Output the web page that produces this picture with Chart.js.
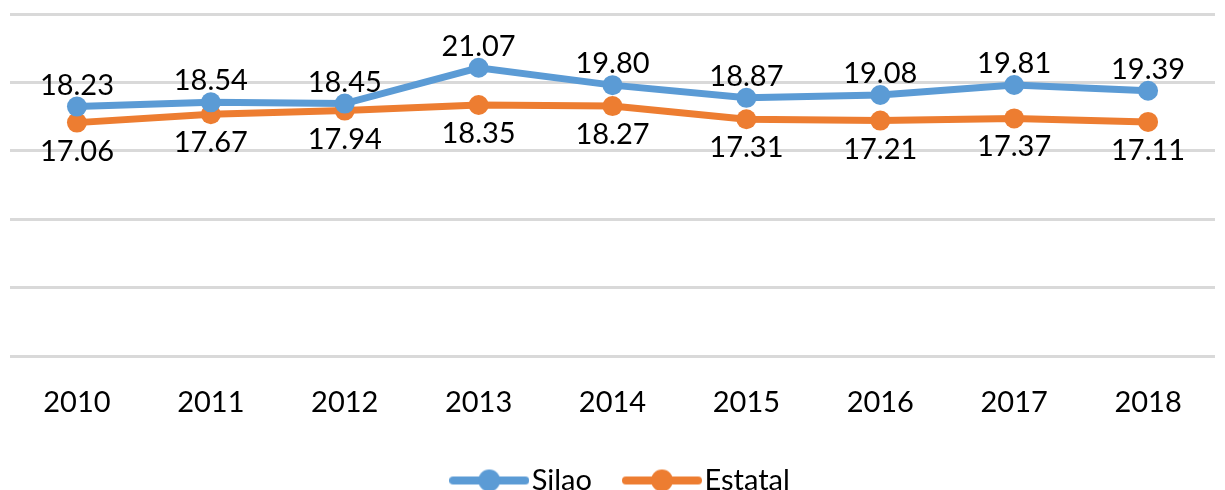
<!DOCTYPE html>
<html>
<head>
<meta charset="utf-8">
<script src="https://cdn.jsdelivr.net/npm/chart.js@4"></script>
<style>
  html, body { margin: 0; padding: 0; background: #fff; overflow: hidden; }
  #wrap { position: relative; width: 1225px; height: 505px; }
</style>
</head>
<body>
<div id="wrap"><canvas id="myChart"></canvas></div>
<script>
const years = ["2010", "2011", "2012", "2013", "2014", "2015", "2016", "2017", "2018"]
const silao = [18.23, 18.54, 18.45, 21.07, 19.80, 18.87, 19.08, 19.81, 19.39]
const estatal = [17.06, 17.67, 17.94, 18.35, 18.27, 17.31, 17.21, 17.37, 17.11]
const seriesNames = ["Silao", "Estatal"]
const colorHex = ["#5b9bd5", "#ed7d31"]

Chart.defaults.font.family = 'Lato, "Open Sans", sans-serif';
Chart.defaults.color = '#000';

// line + dot icon for the legend
function legendIcon(color) {
    const c = document.createElement('canvas');
    c.width = 80; c.height = 24;
    const g = c.getContext('2d');
    g.strokeStyle = color;
    g.lineWidth = 8;
    g.lineCap = 'round';
    g.beginPath();
    g.moveTo(4, 12);
    g.lineTo(76, 12);
    g.stroke();
    g.fillStyle = color;
    g.beginPath();
    g.arc(40, 12, 11, 0, Math.PI * 2);
    g.fill();
    return c;
}

// value labels: Silao above the point, Estatal below
const valueLabels = {
    id: 'valueLabels',
    afterDatasetsDraw(chart) {
        const ctx = chart.ctx;
        ctx.save();
        ctx.font = '29px Lato, "Open Sans", sans-serif';
        ctx.fillStyle = '#000';
        ctx.textAlign = 'center';
        ctx.textBaseline = 'alphabetic';
        chart.data.datasets.forEach((ds, i) => {
            const meta = chart.getDatasetMeta(i);
            meta.data.forEach((pt, j) => {
                const dy = i === 0 ? -12 : 38;
                ctx.fillText(ds.data[j].toFixed(2), pt.x, pt.y + dy);
            });
        });
        ctx.restore();
    }
};

// nudge the legend row a little to the right
const legendNudge = {
    id: 'legendNudge',
    afterLayout(chart) {
        chart.legend.left += 8;
        chart.legend.right += 8;
    }
};

const ctx = document.getElementById('myChart').getContext('2d');
const myChart = new Chart(ctx, {
    type: 'line',
    data: {
        labels: years,
        datasets: [
            { label: seriesNames[0], data: silao, borderColor: colorHex[0], backgroundColor: colorHex[0],
              borderWidth: 7, pointRadius: 10, pointHoverRadius: 10, pointBorderWidth: 0, tension: 0 },
            { label: seriesNames[1], data: estatal, borderColor: colorHex[1], backgroundColor: colorHex[1],
              borderWidth: 7, pointRadius: 10, pointHoverRadius: 10, pointBorderWidth: 0, tension: 0 }
        ]
    },
    options: {
        responsive: true,
        maintainAspectRatio: false,
        animation: false,
        layout: { padding: { top: 14, left: 4.5, right: -5.5, bottom: 0 } },
        scales: {
            x: {
                offset: true,
                grid: { display: false },
                border: { display: false },
                ticks: { font: { size: 29 }, padding: 21.5, color: '#000' },
                afterFit: (scale) => { scale.height = 68; }
            },
            y: {
                min: 0, max: 25,
                ticks: { stepSize: 5, display: false },
                border: { display: false },
                grid: { color: '#d9d9d9', lineWidth: 3, drawTicks: false }
            }
        },
        plugins: {
            tooltip: { enabled: false },
            legend: {
                position: 'bottom',
                labels: {
                    usePointStyle: true, pointStyleWidth: 56, padding: 42,
                    font: { size: 29 }, color: '#000',
                    generateLabels: (chart) => chart.data.datasets.map((ds, i) => ({
                        text: ds.label, pointStyle: legendIcon(colorHex[i]),
                        fillStyle: colorHex[i], strokeStyle: colorHex[i], lineWidth: 0,
                        datasetIndex: i, hidden: false
                    }))
                }
            }
        }
    },
    plugins: [valueLabels, legendNudge]
})
</script>
</body>
</html>
